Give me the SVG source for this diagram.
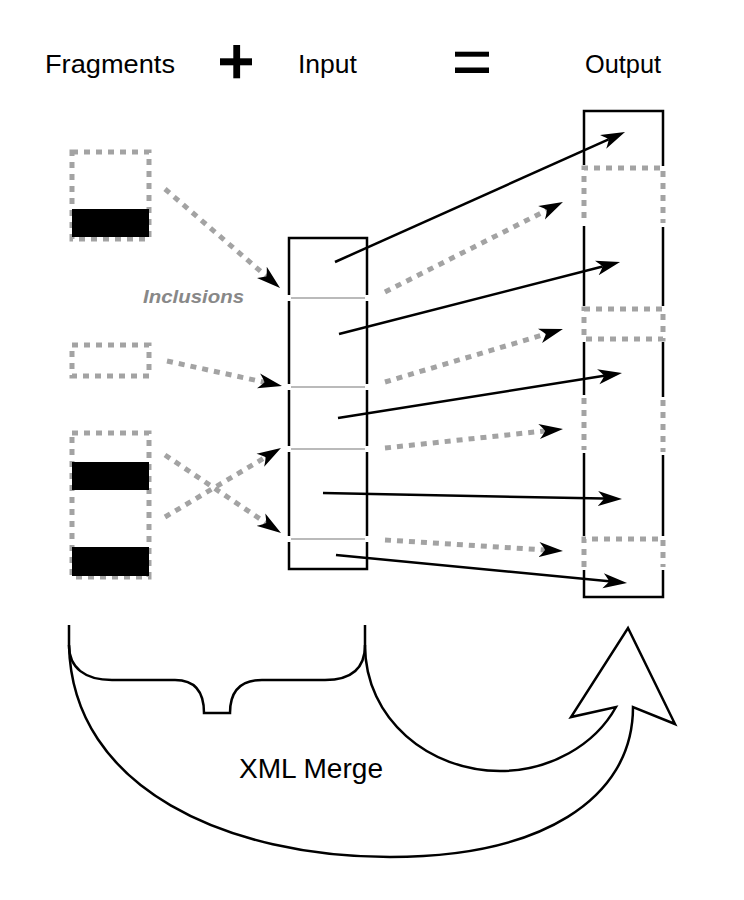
<svg xmlns="http://www.w3.org/2000/svg" width="744" height="900" viewBox="0 0 744 900">
<style>
  .lbl { font-family: "Liberation Sans", Arial, sans-serif; fill: #000; }
  .dot { fill: none; stroke: #a3a3a3; stroke-width: 5; stroke-dasharray: 6 6; }
  .blk { fill: none; stroke: #000; stroke-width: 2.5; }
  .sol { fill: #000; stroke: none; }
  .div { stroke: #777; stroke-width: 1.2; }
  .con { fill: none; stroke: #000; stroke-width: 2.5; marker-end: url(#ah); }
  .dcon { fill: none; stroke: #a3a3a3; stroke-width: 5; stroke-dasharray: 6 6; marker-end: url(#ah); }
</style>
<defs>
  <marker id="ah" markerUnits="userSpaceOnUse" viewBox="0 -8 24 16" markerWidth="24" markerHeight="16" refX="6" refY="0" orient="auto">
    <path d="M24,0 L0,-7.5 Q5,-2 6,0 Q5,2 0,7.5 Z" fill="#000"/>
  </marker>
</defs>
<rect width="744" height="900" fill="#fff"/>

<g id="titles">
  <text class="lbl" x="45" y="73" font-size="25" textLength="130" lengthAdjust="spacingAndGlyphs">Fragments</text>
  <text class="lbl" x="298" y="73" font-size="25" textLength="59" lengthAdjust="spacingAndGlyphs">Input</text>
  <text class="lbl" x="585" y="73" font-size="25" textLength="76" lengthAdjust="spacingAndGlyphs">Output</text>
  <rect class="sol" x="220" y="58.3" width="32" height="7"/>
  <rect class="sol" x="233.3" y="45" width="6.8" height="33.3"/>
  <rect class="sol" x="455" y="51.7" width="34" height="5"/>
  <rect class="sol" x="455" y="67.5" width="34" height="5.5"/>
</g>

<g id="fragment1">
  <rect class="dot" x="72" y="152" width="77" height="87"/>
  <rect class="sol" x="72" y="209" width="77" height="28"/>
</g>
<g id="fragment2">
  <rect class="dot" x="72" y="345" width="77" height="31"/>
</g>
<g id="fragment3">
  <rect class="dot" x="72" y="433" width="77" height="144"/>
  <rect class="sol" x="72" y="462" width="77" height="28"/>
  <rect class="sol" x="72" y="547" width="77" height="29"/>
</g>

<g id="input">
  <path class="blk" d="M289,295 V238 H367 V295"/>
  <path class="blk" d="M289,301 V384 M367,301 V384 M289,390 V446 M367,390 V446 M289,452 V536 M367,452 V536"/>
  <path class="blk" d="M289,542 V569 H367 V542"/>
  <line class="div" x1="291" y1="298" x2="365" y2="298"/>
  <line class="div" x1="291" y1="387" x2="365" y2="387"/>
  <line class="div" x1="291" y1="449" x2="365" y2="449"/>
  <line class="div" x1="291" y1="539" x2="365" y2="539"/>
</g>

<g id="output">
  <path class="blk" d="M584,165 V111 H663 V166"/>
  <path class="blk" d="M584,226 V306 M663,227 V306 M584,342 V395 M663,342 V397 M584,453 V536 M663,455 V536"/>
  <path class="blk" d="M584,570 V597 H663 V570"/>
  <path class="dot" d="M584,218 V168 H663 V223"/>
  <rect class="dot" x="584" y="309" width="79" height="30"/>
  <path class="dot" d="M584,398 V450 M663,400 V452"/>
  <path class="dot" d="M584,567 V539 H663 V567"/>
</g>

<g id="inclusions-label">
  <text x="143" y="303" font-family="'Liberation Sans', Arial, sans-serif" font-size="19" font-weight="bold" font-style="italic" fill="#888" textLength="101" lengthAdjust="spacingAndGlyphs">Inclusions</text>
</g>

<g id="connectors">
  <line class="dcon" x1="165" y1="189" x2="266.4" y2="276.3"/>
  <line class="dcon" x1="167" y1="361" x2="264.4" y2="382.2"/>
  <line class="dcon" x1="165" y1="517" x2="265.5" y2="457.2"/>
  <line class="dcon" x1="165" y1="455" x2="266.1" y2="523.0"/>

  <line class="con" x1="335" y1="262" x2="608.6" y2="139.4"/>
  <line class="con" x1="339" y1="334" x2="602.6" y2="266.5"/>
  <line class="con" x1="338" y1="418" x2="604.2" y2="375.8"/>
  <line class="con" x1="323" y1="493" x2="604.0" y2="498.6"/>
  <line class="con" x1="336" y1="555" x2="609.1" y2="581.3"/>

  <line class="dcon" x1="385" y1="292" x2="546.9" y2="210.1"/>
  <line class="dcon" x1="385" y1="382" x2="545.7" y2="334.1"/>
  <line class="dcon" x1="385" y1="448" x2="545.1" y2="430.9"/>
  <line class="dcon" x1="385" y1="540" x2="545.0" y2="549.9"/>
</g>

<g id="merge">
  <path class="blk" stroke-width="3" d="M69,625 V645 C69,668 85,680 112,680 H175 C195,680 204,692 204,713 H230 C230,692 240,680 262,680 H325 C352,680 365,668 365,645 V625"/>
  <path class="blk" stroke-width="3" stroke-linejoin="miter" d="M69,645 C72,790 230,857 390,857 C540,857 633,800 633,707 L675,724 L628,628 L571,717 L616,707 C595,745 550,771 500,771 C430,771 365,720 365,645"/>
  <text class="lbl" x="239" y="778" font-size="27" textLength="144" lengthAdjust="spacingAndGlyphs">XML Merge</text>
</g>
</svg>
